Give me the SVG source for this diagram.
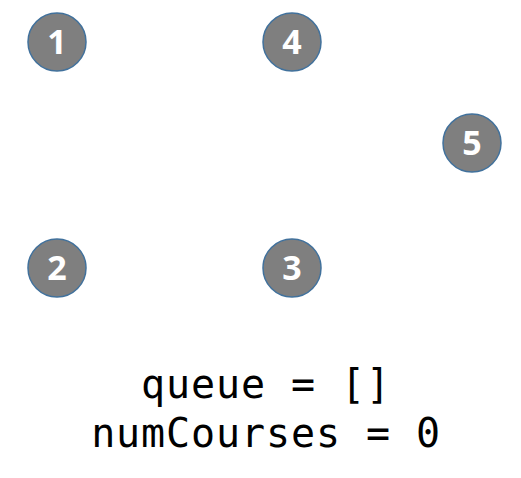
<svg xmlns="http://www.w3.org/2000/svg" width="521" height="478" viewBox="0 0 521 478">
<style>
.n circle{fill:#7f7f7f;stroke:#41719c;stroke-width:1.5}
.n text{fill:#fff;font-family:"Open Sans","Liberation Sans",sans-serif;font-weight:bold;font-size:34px;text-anchor:middle}
.code{font-family:"DejaVu Sans Mono","Liberation Mono",monospace;font-size:40px;letter-spacing:0.9px;fill:#000;text-anchor:middle}
</style>
<rect width="521" height="478" fill="#fff"/>
<g id="connectors"></g>
<g id="node1" class="n"><circle cx="57" cy="42" r="29"/><text x="57" y="54">1</text></g>
<g id="node4" class="n"><circle cx="292" cy="42" r="29"/><text x="292" y="54">4</text></g>
<g id="node5" class="n"><circle cx="472" cy="143" r="29"/><text x="472" y="155">5</text></g>
<g id="node2" class="n"><circle cx="57" cy="268" r="29"/><text x="57" y="280">2</text></g>
<g id="node3" class="n"><circle cx="292" cy="268" r="29"/><text x="292" y="280">3</text></g>
<text class="code" x="266" y="398">queue = []</text>
<text class="code" x="266" y="447">numCourses = 0</text>
</svg>
